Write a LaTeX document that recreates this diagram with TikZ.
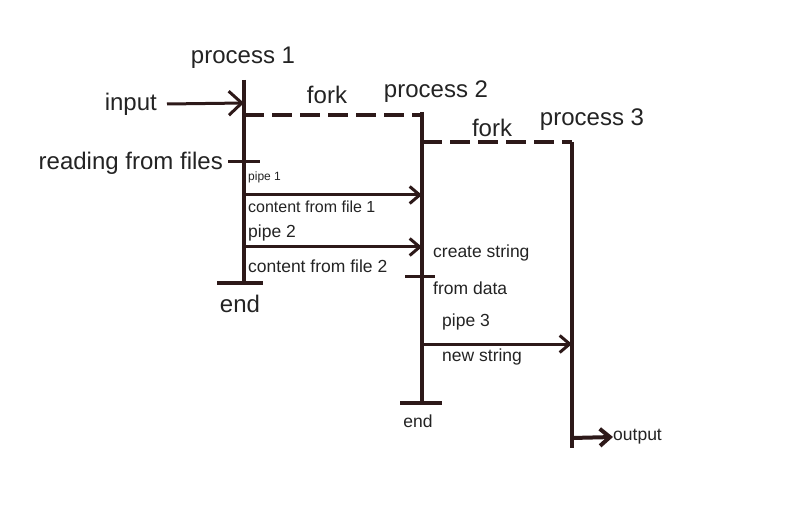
\documentclass[tikz,border=0pt]{standalone}
\usepackage{fontspec}
\setmainfont{Liberation Sans}
\usetikzlibrary{arrows.meta,positioning}
\definecolor{ink}{RGB}{45,25,25}
\definecolor{txt}{RGB}{35,35,35}

\begin{document}
\begin{tikzpicture}[x=1pt,y=-1pt,
    proc/.style={draw=ink,line width=4pt},
    forkline/.style={draw=ink,line width=3.5pt,dash pattern=on 20pt off 8pt},
    msg/.style={draw=ink,line width=3pt,-{Straight Barb[length=10pt,width=17pt]}},
    big/.style={text=txt,font=\fontsize{24}{28}\selectfont,inner sep=0pt},
    small/.style={text=txt,font=\fontsize{17.5}{20}\selectfont,inner sep=0pt}]
      \useasboundingbox (0,0) rectangle (790,505);
      % process lines
      \coordinate (p1top) at (244,80);
      \coordinate (p1bot) at (244,283);
      \coordinate (p2top) at (422,112);
      \coordinate (p2bot) at (422,403);
      \coordinate (p3top) at (572,142);
      \coordinate (p3bot) at (572,448);
      \draw[proc] (p1top) -- (p1bot);
      \draw[proc] (p2top) -- (p2bot);
      \draw[proc] (p3top) -- (p3bot);
      \draw[proc] (217,283) coordinate (e1a) -- (263,283) coordinate (e1b);
      \draw[proc] (400,403) coordinate (e2a) -- (442,403) coordinate (e2b);
      % forks
      \coordinate (f1a) at (244,115);
      \coordinate (f1b) at (422,115);
      \coordinate (f2a) at (422,142);
      \draw[forkline] (f1a) -- (f1b);
      \draw[forkline] (f2a) -- (p3top);
      % ticks
      \draw[proc,line width=3pt] (228,162) coordinate (t1a) -- (260,162) coordinate (t1b);
      \draw[proc,line width=3pt] (405,276) coordinate (t2a) -- (435,276) coordinate (t2b);
      % labels
      \node[big] (proc1) at (243,58) {process 1};
      \node[big] (proc2) at (436,92) {process 2};
      \node[big] (proc3) at (592,120) {process 3};
      \node[big] (fork1) at (327,95) {fork};
      \node[big] (fork2) at (492,128) {fork};
      \node[big,anchor=east] (input) at (157,104) {input};
      \node[big,anchor=east] (reading) at (223,163) {reading from files};
      \node[big] (end1) at (240,304) {end};
      \node[small] (end2) at (418,421) {end};
      \node[small,anchor=west,font=\fontsize{12}{14}\selectfont] (pipe1) at (248,177) {pipe 1};
      \node[small,anchor=west,font=\fontsize{16}{18}\selectfont] (cont1) at (248,207) {content from file 1};
      \node[small,anchor=west] (pipe2) at (248,233) {pipe 2};
      \node[small,anchor=west] (cont2) at (248,266) {content from file 2};
      \node[small,anchor=west] (create) at (433,253) {create string};
      \node[small,anchor=west] (fromdata) at (433,288) {from data};
      \node[small,anchor=west] (pipe3) at (442,322) {pipe 3};
      \node[small,anchor=west] (newstr) at (442,357) {new string};
      \node[small,anchor=west] (output) at (613,437) {output};
      % messages
      \coordinate (p1in) at (244,103);
      \coordinate (m1a) at (244,195);
      \coordinate (m1b) at (422,195);
      \coordinate (m2a) at (244,247);
      \coordinate (m2b) at (422,247);
      \coordinate (m3a) at (422,344);
      \coordinate (m3b) at (572,344);
      \coordinate (outa) at (572,438);
      \draw[msg,-{Straight Barb[length=13pt,width=24pt]}] ([xshift=10pt]input.east) -- (p1in);
      \draw[msg] (m1a) -- (m1b);
      \draw[msg] (m2a) -- (m2b);
      \draw[msg] (m3a) -- (m3b);
      \draw[msg,line width=4pt] (outa) -- (output.west);
\end{tikzpicture}
\end{document}
